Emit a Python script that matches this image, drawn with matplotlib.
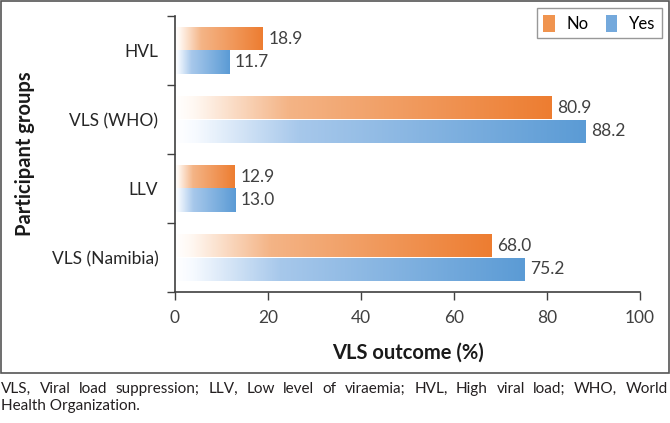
import numpy as np
import matplotlib
matplotlib.use("Agg")
import matplotlib.pyplot as plt
from matplotlib.colors import LinearSegmentedColormap
from matplotlib.patches import Rectangle, Patch
from matplotlib.ticker import FixedLocator

plt.rcParams['font.family'] = ['Lato', 'DejaVu Sans']

# data (bottom to top)
groups = ["VLS (Namibia)", "LLV", "VLS (WHO)", "HVL"]
no_vals = [68.0, 12.9, 80.9, 18.9]
yes_vals = [75.2, 13.0, 88.2, 11.7]
xticks = [0, 20, 40, 60, 80, 100]
caption_1 = "VLS, Viral load suppression; LLV, Low level of viraemia; HVL, High viral load; WHO, World"
caption_2 = "Health Organization."

orange_cm = LinearSegmentedColormap.from_list(
    "org", [(0, "#ffffff"), (0.05, "#fff8f2"), (0.3, "#f4b486"), (1, "#ed7d31")])
blue_cm = LinearSegmentedColormap.from_list(
    "blu", [(0, "#ffffff"), (0.05, "#f6faff"), (0.3, "#a7c8eb"), (1, "#5b9bd5")])

fig = plt.figure(figsize=(6.7, 4.23), dpi=100)
ax = fig.add_axes([175/670, 1-292/423, 465/670, 276/423])

h = 0.34
grad = np.linspace(0, 1, 256).reshape(1, -1)

def gbar(y, val, cmap):
    bars = ax.barh(y, val, height=h, color="none", edgecolor="none")
    b = bars[0]
    im = ax.imshow(grad, cmap=cmap, aspect="auto",
                   extent=[0, val, y - h/2, y + h/2], zorder=2)
    im.set_clip_path(b)
    ax.text(val + 1.2, y, f"{val:.1f}", va="center", ha="left",
            fontsize=12.5, color="#404040")

for i in range(len(groups)):
    gbar(i + h/2, no_vals[i], orange_cm)
    gbar(i - h/2, yes_vals[i], blue_cm)

ax.set_xlim(0, 100)
ax.set_ylim(-0.5, 3.5)
ax.set_xticks(xticks)
ax.set_yticks(range(len(groups)))
ax.set_yticklabels(groups)
ax.yaxis.set_minor_locator(FixedLocator([-0.5, 0.5, 1.5, 2.5, 3.5]))
ax.tick_params(axis="y", which="major", length=0, pad=12, labelsize=12.5, labelcolor="#262626")
ax.tick_params(axis="y", which="minor", length=6, width=1, color="#404040", direction="out")
ax.tick_params(axis="x", length=6, width=1, color="#404040", direction="out",
               labelsize=12.5, labelcolor="#404040", pad=7)
for s in ["top", "right"]:
    ax.spines[s].set_visible(False)
for s in ["left", "bottom"]:
    ax.spines[s].set_color("#404040")
    ax.spines[s].set_linewidth(1.2)

ax.set_xlabel("VLS outcome (%)", fontsize=14.5, fontweight="bold", color="#1a1a1a", labelpad=12)
ax.set_ylabel("Participant groups", fontsize=14.5, fontweight="bold", color="#1a1a1a")
ax.yaxis.set_label_coords(-140/465, 0.5)

handles = [Patch(facecolor="#f0944f", edgecolor="none", label="No"),
           Patch(facecolor="#74a9dc", edgecolor="none", label="Yes")]
leg = fig.legend(handles=handles, loc="upper right", bbox_to_anchor=(662/670, 1-8/423),
                 ncol=2, fontsize=12, frameon=True, fancybox=False, borderaxespad=0,
                 handlelength=0.7, handleheight=1.2, columnspacing=1.0, handletextpad=0.7,
                 borderpad=0.4)
leg.get_frame().set_edgecolor("#7f7f7f")
leg.get_frame().set_linewidth(1)

fig.patches.append(Rectangle((0.5/670, 1-373/423), 668.5/670, 372/423, transform=fig.transFigure,
                             fill=False, edgecolor="#555555", linewidth=1.2))

# caption: first line justified across the full width
cap_fs = 11
renderer = fig.canvas.get_renderer()
words = caption_1.split(" ")
wtexts = [fig.text(0, 1-393/423, w, fontsize=cap_fs, color="#231f20", va="baseline", ha="left")
          for w in words]
widths = [t.get_window_extent(renderer).width for t in wtexts]
gap = (668 - 1 - sum(widths)) / (len(words) - 1)
xpos = 1
for t, w in zip(wtexts, widths):
    t.set_x(xpos/670)
    xpos += w + gap
fig.text(1/670, 1-410/423, caption_2,
         fontsize=cap_fs, color="#231f20", va="baseline", ha="left")

fig.savefig("out.png", dpi=100)
